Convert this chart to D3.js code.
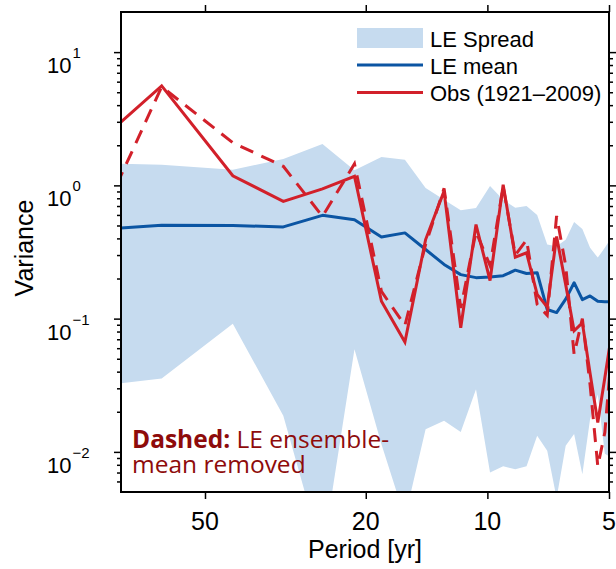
<!DOCTYPE html>
<html><head><meta charset="utf-8">
<script src="https://cdn.jsdelivr.net/npm/d3@7"></script>
<style>body{margin:0;background:#fff} svg{display:block}</style>
</head><body><svg id="c" width="616" height="569"></svg>
<script>
// Periods [yr] of the spectral estimates (frequencies k/128 cycles per year)
const period = [128, 64, 42.67, 32, 25.6, 21.33, 18.29, 16, 14.22, 12.8, 11.64, 10.67, 9.85, 9.14, 8.53, 8, 7.53, 7.11, 6.74, 6.4, 6.1, 5.82, 5.57, 5.33, 5.12, 4.92];
const spreadHi = [1.5, 1.43, 1.31, 1.58, 2.04, 1.3, 1.63, 1.56, 0.956, 0.78, 0.65, 0.677, 0.99, 0.78, 0.68, 0.70, 0.60, 0.36, 0.35, 0.39, 0.53, 0.47, 0.34, 0.287, 0.34, 0.41];
const spreadLo = [0.0278, 0.0355, 0.0917, 0.0187, 0.0017, 0.0588, 0.0114, 0.0032, 0.0148, 0.0171, 0.0141, 0.0295, 0.0070, 0.0078, 0.0074, 0.0078, 0.0132, 0.0102, 0.0045, 0.0111, 0.0136, 0.0068, 0.0176, 0.027, 0.0097, 0.009];
const leMean = [0.438, 0.502, 0.50, 0.488, 0.596, 0.553, 0.41, 0.44, 0.33, 0.255, 0.214, 0.203, 0.205, 0.21, 0.231, 0.218, 0.221, 0.117, 0.111, 0.14, 0.186, 0.139, 0.148, 0.135, 0.134, 0.134];
const obs = [0.86, 5.58, 1.18, 0.759, 0.94, 1.17, 0.135, 0.0667, 0.392, 0.905, 0.0855, 0.508, 0.193, 1.01, 0.289, 0.312, 0.152, 0.122, 0.413, 0.18, 0.081, 0.093, 0.039, 0.0166, 0.036, 0.079];
const obsNoMean = [0.056, 5.5, 2.09, 1.39, 0.586, 1.45, 0.16, 0.089, 0.36, 0.95, 0.12, 0.45, 0.25, 0.98, 0.30, 0.39, 0.128, 0.106, 0.59, 0.25, 0.054, 0.10, 0.032, 0.0078, 0.014, 0.06];

const xTicks = [50, 20, 10, 5];
const yMajor = [0.01, 0.1, 1, 10];
const yExp = ["\u22122", "\u22121", "0", "1"];
const yMinor = [0.006,0.007,0.008,0.009,0.02,0.03,0.04,0.05,0.06,0.07,0.08,0.09,0.2,0.3,0.4,0.5,0.6,0.7,0.8,0.9,2,3,4,5,6,7,8,9];
const legendLabels = ["LE Spread", "LE mean", "Obs (1921\u20132009)"];
const noteBold = "Dashed:";
const noteRest = " LE ensemble-";
const noteLine2 = "mean removed";

const C_BAND = "#c6dbef", C_BLUE = "#0b55a3", C_RED = "#d2202a", C_NOTE = "#8e0b0b";
const FONT = "'Liberation Sans', Arial, Helvetica, sans-serif";
const NFONT = "'Open Sans', sans-serif";

const svg = d3.select("#c");
svg.append("rect").attr("width", 616).attr("height", 569).attr("fill", "#fff");
const L = 121, R = 609, T = 12, B = 492;
const x = d3.scaleLog().domain([80.7, 5]).range([L, R]);
const y = d3.scaleLog().domain([0.005, 20]).range([B, T]);

svg.append("defs").append("clipPath").attr("id", "clip")
  .append("rect").attr("x", L).attr("y", T).attr("width", R - L).attr("height", B - T);
const plot = svg.append("g").attr("clip-path", "url(#clip)");
const idx = d3.range(period.length);

plot.append("path")
  .attr("d", d3.area().x(i => x(period[i])).y0(i => y(spreadLo[i])).y1(i => y(spreadHi[i]))(idx))
  .attr("fill", C_BAND);

const line = arr => d3.line().x(i => x(period[i])).y(i => y(arr[i]))(idx);
plot.append("path").attr("d", line(leMean)).attr("fill", "none")
  .attr("stroke", C_BLUE).attr("stroke-width", 3).attr("stroke-linejoin", "round");
plot.append("path").attr("d", line(obsNoMean)).attr("fill", "none")
  .attr("stroke", C_RED).attr("stroke-width", 3).attr("stroke-dasharray", "14,9");
plot.append("path").attr("d", line(obs)).attr("fill", "none")
  .attr("stroke", C_RED).attr("stroke-width", 3).attr("stroke-linejoin", "miter");

// annotation (one text element, two lines)
const note = svg.append("text").attr("x", 132).attr("y", 448)
  .attr("font-family", NFONT).attr("font-size", 24.5).attr("fill", C_NOTE);
note.append("tspan").attr("font-weight", "bold").text(noteBold);
note.append("tspan").text(noteRest);
note.append("tspan").attr("x", 132).attr("dy", 25).text(noteLine2);

// axes ticks
function styleAxis(g) {
  g.select(".domain").remove();
  g.selectAll("line").attr("stroke", "#000").attr("stroke-width", 1.5);
}
svg.append("g").attr("transform", `translate(${L},0)`)
  .call(d3.axisLeft(y).tickValues(yMajor).tickSize(7).tickFormat("")).call(styleAxis);
svg.append("g").attr("transform", `translate(${L},0)`)
  .call(d3.axisLeft(y).tickValues(yMinor).tickSize(4).tickFormat("")).call(styleAxis);
svg.append("g").attr("transform", `translate(${R},0)`)
  .call(d3.axisRight(y).tickValues(yMajor).tickSize(7).tickFormat("")).call(styleAxis);
svg.append("g").attr("transform", `translate(${R},0)`)
  .call(d3.axisRight(y).tickValues(yMinor).tickSize(4).tickFormat("")).call(styleAxis);
svg.append("g").attr("transform", `translate(0,${B})`)
  .call(d3.axisBottom(x).tickValues(xTicks).tickSize(7).tickFormat("")).call(styleAxis);
svg.append("g").attr("transform", `translate(0,${T})`)
  .call(d3.axisTop(x).tickValues(xTicks).tickSize(7).tickFormat("")).call(styleAxis);

// frame
svg.append("rect").attr("x", L).attr("y", T).attr("width", R - L).attr("height", B - T)
  .attr("fill", "none").attr("stroke", "#000").attr("stroke-width", 2);

// y tick labels
yMajor.forEach((v, i) => {
  const t = svg.append("text").attr("x", 47).attr("y", y(v) + 21)
    .attr("font-family", FONT).attr("font-size", 22).attr("fill", "#000");
  t.append("tspan").text("10");
  t.append("tspan").attr("font-size", 15).attr("dy", -15).attr("dx", 1).text(yExp[i]);
});
// x tick labels
xTicks.forEach(v => {
  svg.append("text").attr("x", x(v)).attr("y", 530).attr("text-anchor", "middle")
    .attr("font-family", FONT).attr("font-size", 25).attr("fill", "#000").text(v);
});
// axis titles
svg.append("text").attr("x", 365).attr("y", 558).attr("text-anchor", "middle")
  .attr("font-family", FONT).attr("font-size", 25).text("Period [yr]");
svg.append("text").attr("transform", "translate(33,248) rotate(-90)").attr("text-anchor", "middle")
  .attr("font-family", FONT).attr("font-size", 25).text("Variance");

// legend
const lg = svg.append("g");
lg.append("rect").attr("x", 357).attr("y", 28).attr("width", 66).attr("height", 20).attr("fill", C_BAND);
lg.append("line").attr("x1", 357).attr("x2", 423).attr("y1", 65).attr("y2", 65)
  .attr("stroke", C_BLUE).attr("stroke-width", 3);
lg.append("line").attr("x1", 357).attr("x2", 423).attr("y1", 92.5).attr("y2", 92.5)
  .attr("stroke", C_RED).attr("stroke-width", 3);
legendLabels.forEach((s, i) => {
  lg.append("text").attr("x", 430).attr("y", 46.5 + i * 27.2)
    .attr("font-family", FONT).attr("font-size", 22).text(s);
});
</script></body></html>
